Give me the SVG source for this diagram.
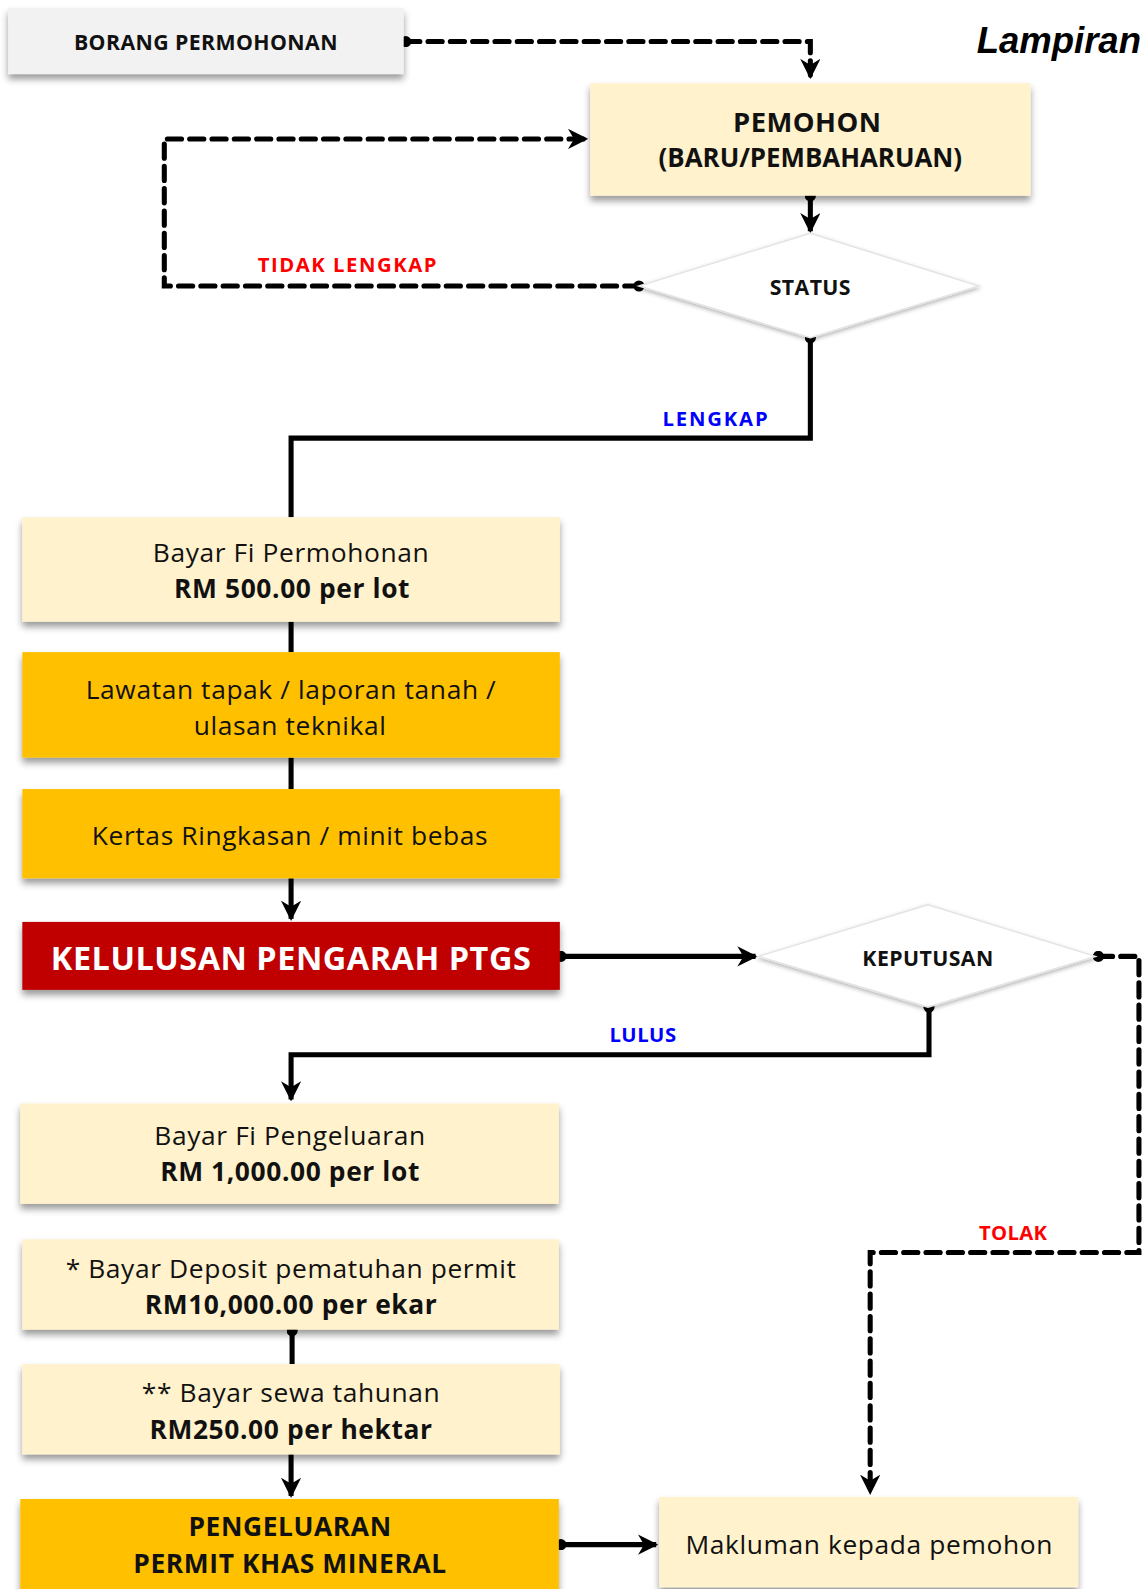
<svg xmlns="http://www.w3.org/2000/svg" width="1142" height="1589" viewBox="0 0 1142 1589">
<defs>
<style>
.t{font-family:"Open Sans","Noto Sans","Liberation Sans",sans-serif;fill:#111;text-anchor:middle;dominant-baseline:central}
.b{font-weight:bold}
.n{font-size:26px;letter-spacing:0.6px}
.s{font-size:21px;font-weight:bold;letter-spacing:0.4px}
.lbl{font-family:"Open Sans","Liberation Sans",sans-serif;font-size:20px;font-weight:bold;text-anchor:middle;dominant-baseline:central}
.ln{fill:none;stroke:#000;stroke-width:5}
.dash{fill:none;stroke:#000;stroke-width:5;stroke-dasharray:14 8;stroke-linecap:round}
.cream{fill:#fff2cc}
.gold{fill:#ffc000}
</style>
<filter id="sh" x="-10%" y="-20%" width="120%" height="160%">
<feDropShadow dx="0" dy="5" stdDeviation="3.5" flood-color="#000" flood-opacity="0.4"/>
</filter>
<filter id="sh2" x="-10%" y="-20%" width="120%" height="150%">
<feDropShadow dx="0" dy="2" stdDeviation="2" flood-color="#000" flood-opacity="0.3"/>
</filter>
<marker id="ar" viewBox="0 0 10 10" refX="9" refY="5" markerWidth="4" markerHeight="4" orient="auto" markerUnits="strokeWidth">
<path d="M0,0 L10,5 L0,10 L3,5 z" fill="#000"/>
</marker>
<marker id="dot" viewBox="0 0 10 10" refX="5" refY="5" markerWidth="2.2" markerHeight="2.2" orient="auto" markerUnits="strokeWidth">
<circle cx="5" cy="5" r="5" fill="#000"/>
</marker>
</defs>
<rect width="1142" height="1589" fill="#fff"/>

<g transform="scale(1.0142)">
<text x="963" y="40" font-family="Liberation Sans, Arial, sans-serif" font-size="36" font-weight="bold" font-style="italic" dominant-baseline="central" fill="#000">Lampiran</text>

<g id="connectors">
<path class="dash" d="M400,41 H799 V76" marker-start="url(#dot)" marker-end="url(#ar)"/>
<path class="dash" d="M630,282 H162 V137 H578" marker-start="url(#dot)" marker-end="url(#ar)"/>
<path class="ln" d="M799,193 V228" marker-start="url(#dot)" marker-end="url(#ar)"/>
<path class="ln" d="M799,333 V432 H287 V510" marker-start="url(#dot)"/>
<path class="ln" d="M287,613 V643"/>
<path class="ln" d="M287,747 V778"/>
<path class="ln" d="M287,866 V906" marker-end="url(#ar)"/>
<path class="ln" d="M553,943 H745" marker-start="url(#dot)" marker-end="url(#ar)"/>
<path class="ln" d="M916,993 V1040 H287 V1084" marker-start="url(#dot)" marker-end="url(#ar)"/>
<path class="ln" d="M288,1312 V1345" marker-start="url(#dot)"/>
<path class="ln" d="M287,1434 V1475" marker-end="url(#ar)"/>
<path class="ln" d="M553,1523 H647" marker-start="url(#dot)" marker-end="url(#ar)"/>
<path class="dash" d="M1083,943 H1123 V1235 H858 V1472" marker-start="url(#dot)" marker-end="url(#ar)"/>
<text class="lbl" x="343" y="260" fill="#ff0000" letter-spacing="1.5">TIDAK LENGKAP</text>
<text class="lbl" x="706" y="412" fill="#0000ff" letter-spacing="1.8">LENGKAP</text>
<text class="lbl" x="634" y="1020" fill="#0000ff" letter-spacing="0.5">LULUS</text>
<text class="lbl" x="999" y="1215" fill="#ff0000" letter-spacing="0.3">TOLAK</text>
</g>

<g id="borang">
<rect x="8" y="8" width="390" height="65" fill="#f2f2f2" filter="url(#sh)"/>
<text class="t s" x="203" y="41">BORANG PERMOHONAN</text>
</g>

<g id="pemohon">
<rect x="582" y="82" width="434" height="111" class="cream" filter="url(#sh)"/>
<text class="t b" font-size="27" x="796" y="120" letter-spacing="0.5">PEMOHON</text>
<text class="t b" font-size="25.5" x="799" y="155">(BARU/PEMBAHARUAN)</text>
</g>

<g id="status">
<polygon points="799,230 965,282 799,333 630,282" fill="#fff" stroke="#e4e4e4" stroke-width="1.5" filter="url(#sh2)"/>
<text class="t s" x="799" y="282">STATUS</text>
</g>

<g id="fi-permohonan">
<rect x="22" y="510" width="530" height="103" class="cream" filter="url(#sh)"/>
<text class="t n" x="287" y="544">Bayar Fi Permohonan</text>
<text class="t n b" x="288" y="580">RM 500.00 per lot</text>
</g>

<g id="lawatan">
<rect x="22" y="643" width="530" height="104" class="gold" filter="url(#sh)"/>
<text class="t n" x="287" y="679">Lawatan tapak / laporan tanah /</text>
<text class="t n" x="286" y="715">ulasan teknikal</text>
</g>

<g id="kertas">
<rect x="22" y="778" width="530" height="88" class="gold" filter="url(#sh)"/>
<text class="t n" x="286" y="823">Kertas Ringkasan / minit bebas</text>
</g>

<g id="kelulusan">
<rect x="22" y="909" width="530" height="67" fill="#c00000" filter="url(#sh)"/>
<text class="t b" font-size="32" x="287" y="944" letter-spacing="0.5" style="fill:#fff">KELULUSAN PENGARAH PTGS</text>
</g>

<g id="keputusan">
<polygon points="915,892 1080,943 915,993 748,943" fill="#fff" stroke="#e4e4e4" stroke-width="1.5" filter="url(#sh2)"/>
<text class="t s" x="915" y="944">KEPUTUSAN</text>
</g>

<g id="fi-pengeluaran">
<rect x="20" y="1088" width="531" height="99" class="cream" filter="url(#sh)"/>
<text class="t n" x="286" y="1119">Bayar Fi Pengeluaran</text>
<text class="t n b" x="286" y="1155">RM 1,000.00  per lot</text>
</g>

<g id="deposit">
<rect x="22" y="1222" width="529" height="89" class="cream" filter="url(#sh)"/>
<text class="t n" x="287" y="1250">* Bayar Deposit pematuhan permit</text>
<text class="t n b" x="287" y="1286">RM10,000.00  per ekar</text>
</g>

<g id="sewa">
<rect x="22" y="1345" width="530" height="89" class="cream" filter="url(#sh)"/>
<text class="t n" x="287" y="1373">** Bayar sewa tahunan</text>
<text class="t n b" x="287" y="1409">RM250.00 per hektar</text>
</g>

<g id="pengeluaran">
<rect x="20" y="1478" width="531" height="130" class="gold" filter="url(#sh)"/>
<text class="t n b" x="286" y="1505">PENGELUARAN</text>
<text class="t n b" x="286" y="1541">PERMIT KHAS MINERAL</text>
</g>

<g id="makluman">
<rect x="650" y="1476" width="413" height="89" class="cream" filter="url(#sh)"/>
<text class="t n" x="857" y="1522">Makluman kepada pemohon</text>
</g>
</g>
</svg>
